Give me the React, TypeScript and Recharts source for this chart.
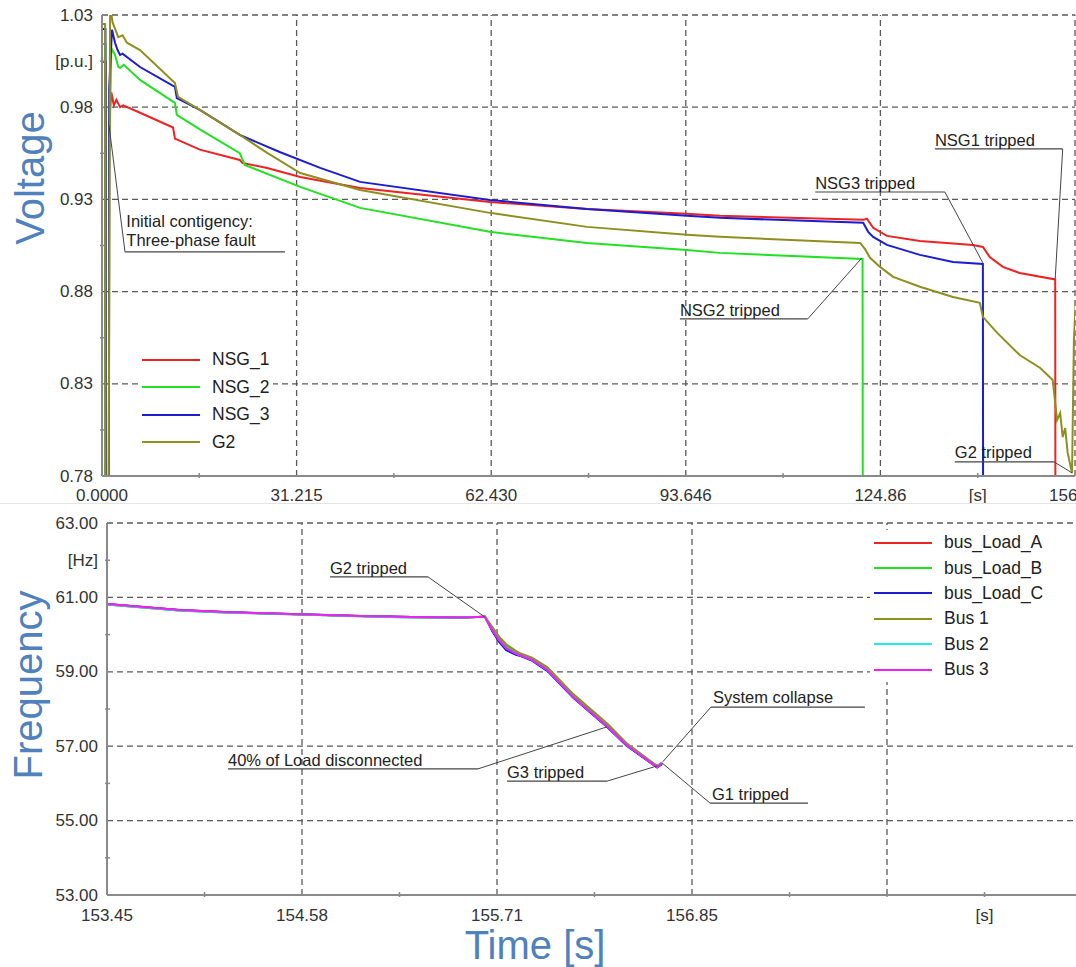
import React from "react";
import { Legend, Line, LineChart, ReferenceDot, ReferenceLine, XAxis, YAxis } from "recharts";

const FONT = '"Liberation Sans", Arial, Helvetica, sans-serif';
const TITLE_BLUE = "#4f81bd";
const GRID = "#5a5a5a";
const AXIS = "#8a8a8a";

// ---- voltage panel: [time s, voltage p.u.] ----
const NSG_1: [number, number][] = [
  [0, 1.0045], [0.6, 1.0045], [0.65, 0.7], [1.1, 0.7], [1.15, 0.972], [1.5, 0.988], [1.9, 0.981],
  [2.3, 0.984], [2.9, 0.98], [3.4, 0.981], [6.1, 0.977], [11.4, 0.969], [11.7, 0.963], [15.7, 0.957],
  [22.1, 0.9514], [22.5, 0.9498], [26.5, 0.947], [31.8, 0.9422], [37.0, 0.9389], [41.4, 0.9362],
  [62.2, 0.9286], [77.8, 0.9248], [93.8, 0.9222], [99.1, 0.9211], [122.1, 0.9189], [122.7, 0.9195],
  [123.7, 0.9146], [125.9, 0.9102], [131.2, 0.9075], [139.7, 0.9053], [141.3, 0.9042], [142.4, 0.8988],
  [144.5, 0.8934], [147.2, 0.8901], [152.9, 0.8866], [152.95, 0.7],
];
const NSG_2: [number, number][] = [
  [0, 1.0143], [0.55, 1.0143], [0.6, 0.7], [1.1, 0.7], [1.15, 0.95], [1.5, 1.012], [2.1, 1.0083],
  [2.6, 1.002], [2.9, 1.0013], [3.5, 1.003], [6.1, 0.9948], [11.7, 0.9823], [12.0, 0.9758], [15.7, 0.968],
  [22.1, 0.9551], [22.9, 0.9487], [31.8, 0.9368], [41.4, 0.9254], [62.2, 0.9124], [77.8, 0.9064],
  [93.8, 0.9026], [99.1, 0.901], [122.0, 0.8977], [122.05, 0.7],
];
const NSG_3: [number, number][] = [
  [0, 1.0224], [0.55, 1.0224], [0.6, 0.7], [1.1, 0.7], [1.15, 0.99], [1.6, 1.022], [2.1, 1.0148],
  [2.5, 1.011], [2.9, 1.0083], [3.3, 1.009], [6.1, 1.0018], [11.7, 0.991], [12.0, 0.985], [15.7, 0.9785],
  [22.1, 0.965], [28.5, 0.9557], [35.0, 0.9471], [41.4, 0.9395], [62.2, 0.9297], [77.8, 0.9248],
  [93.8, 0.9211], [99.1, 0.92], [122.1, 0.9173], [122.9, 0.9124], [123.7, 0.9097], [125.9, 0.9053],
  [131.2, 0.8999], [136.5, 0.8961], [141.3, 0.895], [141.35, 0.7],
];
const G2: [number, number][] = [
  [0, 1.0251], [0.5, 1.0251], [0.55, 0.7], [1.0, 0.7], [1.3, 1.035], [1.7, 1.026], [2.6, 1.018],
  [3.3, 1.019], [4.0, 1.015], [6.1, 1.011], [11.7, 0.9931], [12.2, 0.9856], [15.7, 0.9785], [22.1, 0.965],
  [26.5, 0.9552], [31.8, 0.9443], [41.4, 0.9351], [62.2, 0.9227], [77.8, 0.9151], [93.8, 0.9108],
  [99.1, 0.9097], [121.6, 0.9064], [122.4, 0.903], [123.2, 0.8983], [124.8, 0.8934], [126.9, 0.888],
  [131.2, 0.8826], [136.5, 0.8771], [140.8, 0.8739], [141.3, 0.8663], [143.6, 0.8576], [147.2, 0.8456],
  [150.5, 0.8386], [152.5, 0.8321], [153.2, 0.8103], [153.7, 0.8141], [154.1, 0.8011], [154.5, 0.806],
  [154.9, 0.7925], [155.6, 0.7816], [155.9, 0.8537], [156.2, 0.875],
];

const V_X_TICKS = [0, 15.6075, 31.215, 46.8225, 62.43, 78.0375, 93.646, 109.2525, 124.86, 140.4675, 156.075];
const V_X_LABELS = ["0.0000", "", "31.215", "", "62.430", "", "93.646", "", "124.86", "[s]", "156.07"];
const V_Y_TICKS = [0.78, 0.805, 0.83, 0.855, 0.88, 0.905, 0.93, 0.955, 0.98, 1.005, 1.03];
const V_Y_LABELS = ["0.78", "", "0.83", "", "0.88", "", "0.93", "", "0.98", "[p.u.]", "1.03"];
const V_X_GRID = [31.215, 62.43, 93.646, 124.86, 156.075];
const V_Y_GRID = [0.83, 0.88, 0.93, 0.98, 1.03];

// ---- frequency panel ----
const F_TIME = [
  153.45, 153.87, 154.16, 154.57, 154.92, 155.22, 155.5, 155.647, 155.69, 155.73, 155.77, 155.83,
  155.85, 155.92, 156.01, 156.16, 156.36, 156.47, 156.647, 156.676,
];
const BUS_LOAD_A = [60.82, 60.66, 60.6, 60.55, 60.5, 60.47, 60.46, 60.48, 60.1, 59.83, 59.62, 59.47, 59.44, 59.31, 59.04, 58.31, 57.51, 57.02, 56.43, 56.53];
const BUS_LOAD_B = [60.81, 60.65, 60.6, 60.54, 60.5, 60.47, 60.46, 60.48, 60.16, 59.9, 59.7, 59.52, 59.47, 59.36, 59.1, 58.38, 57.58, 57.07, 56.46, 56.55];
const BUS_LOAD_C = [60.82, 60.66, 60.6, 60.55, 60.5, 60.47, 60.46, 60.48, 60.08, 59.8, 59.58, 59.45, 59.43, 59.3, 59.02, 58.3, 57.5, 57.01, 56.43, 56.52];
const BUS_1 = [60.81, 60.65, 60.59, 60.54, 60.49, 60.46, 60.45, 60.48, 60.2, 59.94, 59.74, 59.55, 59.5, 59.38, 59.12, 58.4, 57.6, 57.08, 56.47, 56.56];
const BUS_2 = [60.81, 60.65, 60.59, 60.54, 60.49, 60.46, 60.46, 60.48, 60.12, 59.85, 59.64, 59.48, 59.45, 59.32, 59.05, 58.32, 57.52, 57.03, 56.44, 56.55];
const BUS_3 = [60.82, 60.66, 60.6, 60.55, 60.5, 60.47, 60.46, 60.48, 60.12, 59.85, 59.64, 59.48, 59.45, 59.32, 59.05, 58.32, 57.52, 57.03, 56.44, 56.55];

const F_X_TICKS = [153.45, 154.0167, 154.5833, 155.15, 155.7167, 156.2833, 156.85, 157.4167, 157.9833, 158.55, 159.1167];
const F_X_LABELS = ["153.45", "", "154.58", "", "155.71", "", "156.85", "", "", "[s]", ""];
const F_Y_TICKS = [53, 54, 55, 56, 57, 58, 59, 60, 61, 62, 63];
const F_Y_LABELS = ["53.00", "", "55.00", "", "57.00", "", "59.00", "", "61.00", "[Hz]", "63.00"];
const F_X_GRID = [154.5833, 155.7167, 156.85, 157.9833];
const F_Y_GRID = [55, 57, 59, 61, 63];

type Note = {
  lines: string[];
  at: [number, number];
  underline: [number, number, number];
  leader: [number, number, number, number];
};

const V_NOTES: Note[] = [
  { lines: ["Initial contigency:", "Three-phase fault"], at: [3.9, 0.915], underline: [3.69, 29.35, 0.9015], leader: [1.12, 0.9703, 3.69, 0.9015] },
  { lines: ["NSG1 tripped"], at: [133.6, 0.959], underline: [133.6, 154.1, 0.9574], leader: [154.1, 0.9574, 152.9, 0.8869] },
  { lines: ["NSG3 tripped"], at: [114.4, 0.9357], underline: [114.4, 135.2, 0.934], leader: [135.2, 0.934, 141.3, 0.8956] },
  { lines: ["NSG2 tripped"], at: [92.7, 0.8669], underline: [92.7, 113.2, 0.8652], leader: [113.2, 0.8652, 121.9, 0.8983] },
  { lines: ["G2 tripped"], at: [136.8, 0.7899], underline: [136.8, 152.7, 0.7877], leader: [152.7, 0.7877, 155.6, 0.7817] },
];

const F_NOTES: Note[] = [
  { lines: ["G2 tripped"], at: [154.746, 61.63], underline: [154.746, 155.316, 61.55], leader: [155.316, 61.55, 155.647, 60.47] },
  { lines: ["40% of Load disconnected"], at: [154.153, 56.47], underline: [154.153, 155.606, 56.39], leader: [155.606, 56.39, 156.356, 57.52] },
  { lines: ["G3 tripped"], at: [155.775, 56.15], underline: [155.775, 156.356, 56.06], leader: [156.356, 56.06, 156.647, 56.47] },
  { lines: ["G1 tripped"], at: [156.966, 55.55], underline: [156.955, 157.524, 55.47], leader: [156.955, 55.47, 156.676, 56.55] },
  { lines: ["System collapse"], at: [156.972, 58.16], underline: [156.96, 157.855, 58.05], leader: [156.96, 58.05, 156.68, 56.58] },
];

const V_SERIES = [
  { name: "NSG_1", color: "#ee2222", pts: NSG_1 },
  { name: "NSG_2", color: "#22e022", pts: NSG_2 },
  { name: "NSG_3", color: "#1c1cd0", pts: NSG_3 },
  { name: "G2", color: "#8f8f1f", pts: G2 },
];

const F_SERIES = [
  { name: "bus_Load_A", color: "#ee2222", vals: BUS_LOAD_A },
  { name: "bus_Load_B", color: "#22e022", vals: BUS_LOAD_B },
  { name: "bus_Load_C", color: "#1c1cd0", vals: BUS_LOAD_C },
  { name: "Bus 1", color: "#8f8f1f", vals: BUS_1 },
  { name: "Bus 2", color: "#22e6f0", vals: BUS_2 },
  { name: "Bus 3", color: "#f020f0", vals: BUS_3 },
];

function AxisTick(props: any) {
  const { x, y, payload, ticks, labels, side, gap } = props;
  const i = ticks.findIndex((t: number) => Math.abs(t - payload.value) < 1e-6);
  const label = i >= 0 ? labels[i] : "";
  const minor = label === "" || label.startsWith("[");
  const style = { fontFamily: FONT, fontSize: 17, fill: "#333" };
  if (side === "x") {
    return (
      <g>
        {minor && <line x1={x} x2={x} y1={y} y2={y - 5} stroke={AXIS} strokeWidth={1.5} />}
        {label && (
          <text x={x} y={y + gap} textAnchor="middle" style={style}>
            {label}
          </text>
        )}
      </g>
    );
  }
  return (
    <g>
      {minor && <line x1={x} x2={x + 5} y1={y} y2={y} stroke={AXIS} strokeWidth={1.5} />}
      {label && (
        <text x={x - 7} y={y} textAnchor="end" dominantBaseline="central" style={style}>
          {label}
        </text>
      )}
    </g>
  );
}

function NoteText({ cx, cy, lines }: { cx?: number; cy?: number; lines: string[] }) {
  if (cx == null || cy == null) return null;
  return (
    <text x={cx} y={cy} style={{ fontFamily: FONT, fontSize: 16.5, fill: "#222" }}>
      {lines.map((l, i) => (
        <tspan key={l} x={cx} dy={i === 0 ? 0 : 19}>
          {l}
        </tspan>
      ))}
    </text>
  );
}

function renderNotes(notes: Note[], prefix: string) {
  return notes.flatMap((n, i) => [
    <ReferenceLine
      key={`${prefix}u${i}`}
      segment={[{ x: n.underline[0], y: n.underline[2] }, { x: n.underline[1], y: n.underline[2] }]}
      stroke="#444"
      strokeWidth={1.2}
      ifOverflow="visible"
    />,
    <ReferenceLine
      key={`${prefix}l${i}`}
      segment={[{ x: n.leader[0], y: n.leader[1] }, { x: n.leader[2], y: n.leader[3] }]}
      stroke="#444"
      strokeWidth={1}
      ifOverflow="visible"
    />,
    <ReferenceDot
      key={`${prefix}t${i}`}
      x={n.at[0]}
      y={n.at[1]}
      r={0}
      ifOverflow="visible"
      shape={(p: any) => <NoteText cx={p.cx} cy={p.cy} lines={n.lines} />}
    />,
  ]);
}

function LegendBox({
  items,
  rowH,
  padTop,
  boxW,
}: {
  items: { name: string; color: string }[];
  rowH: number;
  padTop: number;
  boxW: number;
}) {
  return (
    <div
      style={{
        fontFamily: FONT,
        fontSize: 17.5,
        color: "#222",
        background: "#fff",
        width: boxW,
        padding: `${padTop}px 0 ${padTop}px 4px`,
        boxSizing: "border-box",
      }}
    >
      {items.map((it) => (
        <div key={it.name} style={{ display: "flex", alignItems: "center", height: rowH }}>
          <div style={{ width: 58, height: 2, background: it.color, marginRight: 12, flex: "none" }} />
          <span>{it.name}</span>
        </div>
      ))}
    </div>
  );
}

function gridLines(xs: number[], ys: number[], prefix: string) {
  return [
    ...xs.map((v) => (
      <ReferenceLine key={`${prefix}x${v}`} x={v} stroke={GRID} strokeWidth={1.3} strokeDasharray="6 4" />
    )),
    ...ys.map((v) => (
      <ReferenceLine key={`${prefix}y${v}`} y={v} stroke={GRID} strokeWidth={1.3} strokeDasharray="6 4" />
    )),
  ];
}

const titleStyle: React.CSSProperties = {
  position: "absolute",
  fontFamily: FONT,
  fontSize: 40,
  color: TITLE_BLUE,
  lineHeight: 0.8,
  whiteSpace: "nowrap",
};

export default function App() {
  return (
    <div
      style={{
        position: "absolute",
        left: 0,
        top: 0,
        width: 1076,
        height: 967,
        overflow: "hidden",
        background: "#fff",
      }}
    >
      <div style={{ position: "absolute", left: 0, top: 0 }}>
        <LineChart width={1076} height={510} margin={{ top: 15, right: 1, bottom: 0, left: 0 }} style={{ fontFamily: FONT }}>
          <XAxis
            dataKey="t"
            type="number"
            domain={[0, 156.075]}
            allowDataOverflow
            ticks={V_X_TICKS}
            interval={0}
            height={34}
            tickSize={0}
            tickLine={false}
            axisLine={{ stroke: AXIS, strokeWidth: 2 }}
            tick={<AxisTick ticks={V_X_TICKS} labels={V_X_LABELS} side="x" gap={23} />}
          />
          <YAxis
            type="number"
            domain={[0.78, 1.03]}
            allowDataOverflow
            ticks={V_Y_TICKS}
            interval={0}
            width={102}
            tickSize={0}
            tickLine={false}
            axisLine={{ stroke: AXIS, strokeWidth: 2 }}
            tick={<AxisTick ticks={V_Y_TICKS} labels={V_Y_LABELS} side="y" />}
          />
          {gridLines(V_X_GRID, V_Y_GRID, "v")}
          {V_SERIES.map((s) => (
            <Line
              key={s.name}
              name={s.name}
              data={s.pts.map(([t, v]) => ({ t, v }))}
              dataKey="v"
              type="linear"
              stroke={s.color}
              strokeWidth={2}
              dot={false}
              isAnimationActive={false}
            />
          ))}
          {renderNotes(V_NOTES, "vn")}
          <Legend
            layout="horizontal"
            verticalAlign="middle"
            align="center"
            wrapperStyle={{ left: 138, top: 344, width: 135 }}
            content={() => <LegendBox items={V_SERIES} rowH={27.5} padTop={2} boxW={135} />}
          />
        </LineChart>
      </div>

      <div style={{ position: "absolute", left: 0, top: 503, width: 1076, height: 1, background: "#e4e4e4" }} />

      <div style={{ position: "absolute", left: 0, top: 505 }}>
        <LineChart width={1090} height={420} margin={{ top: 18, right: 8, bottom: 0, left: 0 }} style={{ fontFamily: FONT }}>
          <XAxis
            dataKey="t"
            type="number"
            domain={[153.45, 159.1167]}
            allowDataOverflow
            ticks={F_X_TICKS}
            interval={0}
            height={30}
            tickSize={0}
            tickLine={false}
            axisLine={{ stroke: AXIS, strokeWidth: 2 }}
            tick={<AxisTick ticks={F_X_TICKS} labels={F_X_LABELS} side="x" gap={24} />}
          />
          <YAxis
            type="number"
            domain={[53, 63]}
            allowDataOverflow
            ticks={F_Y_TICKS}
            interval={0}
            width={107}
            tickSize={0}
            tickLine={false}
            axisLine={{ stroke: AXIS, strokeWidth: 2 }}
            tick={<AxisTick ticks={F_Y_TICKS} labels={F_Y_LABELS} side="y" />}
          />
          {gridLines(F_X_GRID, F_Y_GRID, "f")}
          {F_SERIES.map((s) => (
            <Line
              key={s.name}
              name={s.name}
              data={F_TIME.map((t, i) => ({ t, v: s.vals[i] }))}
              dataKey="v"
              type="linear"
              stroke={s.color}
              strokeWidth={2}
              dot={false}
              isAnimationActive={false}
            />
          ))}
          {renderNotes(F_NOTES, "fn")}
          <Legend
            layout="horizontal"
            verticalAlign="middle"
            align="center"
            wrapperStyle={{ left: 870, top: 25, width: 210 }}
            content={() => <LegendBox items={F_SERIES} rowH={25.4} padTop={0} boxW={210} />}
          />
        </LineChart>
      </div>

      <div style={{ ...titleStyle, left: 30, top: 178, transform: "translate(-50%, -50%) rotate(-90deg)" }}>Voltage</div>
      <div style={{ ...titleStyle, left: 28, top: 685, transform: "translate(-50%, -50%) rotate(-90deg)" }}>Frequency</div>
      <div style={{ ...titleStyle, left: 535, top: 945, transform: "translate(-50%, -50%)" }}>Time [s]</div>
    </div>
  );
}
